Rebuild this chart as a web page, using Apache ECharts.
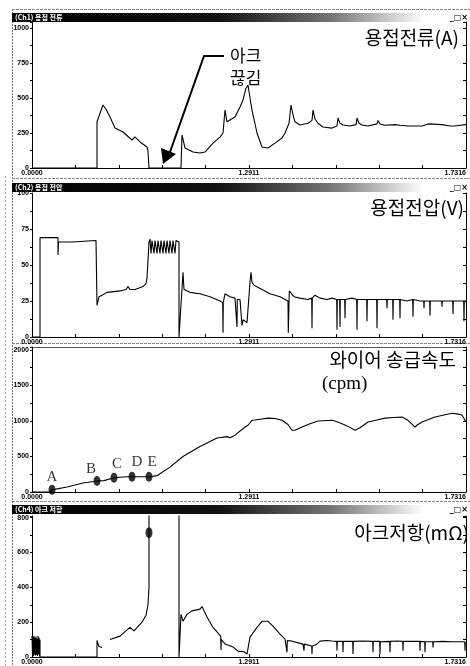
<!DOCTYPE html>
<html>
<head>
<meta charset="utf-8">
<script src="https://cdn.jsdelivr.net/npm/echarts@6/dist/echarts.min.js"></script>
<style>
html,body{margin:0;padding:0;background:#fff}
#main{width:470px;height:666px}
</style>
</head>
<body>
<div id="main"></div>
<script>
// x = 샘플 위치 (창 안 0..434), 눈금 10칸
var xTickLabels = ['0.0000', '1.2911', '1.7316'];

// 용접전류 (A)
var current = [[0,0],[65,0],[65,330],[71,450],[74,420],[78,365],[83,285],[91,257],[100,200],[103,222],
  [108,186],[115,150],[116,120],[117,0],[149,0],[150,236],[153,143],[161,114],[168,107],[173,114],
  [181,178],[188,221],[191,250],[193,414],[195,330],[203,365],[208,436],[211,486],[214,570],[216,593],
  [218,500],[220,414],[225,250],[230,150],[236,143],[243,178],[250,214],[253,250],[257,320],[259,450],
  [261,380],[263,330],[268,307],[276,320],[280,340],[281,414],[283,350],[286,320],[291,293],[300,285],
  [305,300],[306,357],[308,320],[311,307],[318,300],[324,310],[325,357],[327,320],[330,307],[336,300],
  [345,315],[346,340],[348,315],[353,305],[363,310],[368,305],[376,300],[383,300],[390,300],[396,315],
  [398,305],[410,310],[418,300],[423,300],[428,305],[434,310]];

// 용접전압 (V)
var voltage = [[0,0],[8,0],[8,69],[26,69],[26,57],[26.5,66],[40,66],[64,67],[65,22],[67,28],[70,29],[75,31],
  [88,32],[94,33],[96,35],[98,33],[103,33],[111,35],[114,37],[115,41],[117,66],
  [118,68],[119,58],[120,67],[122,58],[123,67],[125,58],[126,67],[128,58],[129,67],[131,58],[132,67],
  [134,58],[135,67],[137,58],[138,67],[140,58],[141,67],[143,58],[144,67],[146,66],[147,66],[147,0],
  [149,0],[151,45],[152,33],[158,31],[168,30],[178,28],[188,25],[190.7,24],[191,3],[191.3,24],[193,30],
  [198,28],[203,27],[205,26],[205,7],[205.3,26],[208,26],[210,8],[211,12],[215,10],[217,11],[218,38],
  [219,45],[220,38],[222,36],[230,33],[238,30],[248,28],[256,25],[256.3,3],[257,3],[257.3,32],[262,28],
  [268,27],[276,26],[279.7,27],[280,6],[280.3,27],[283,29],[288,27],[295,26],[300,27],[304.7,26],
  [305,5],[305.3,26],[307.7,26],[308,7],[308.3,26],[312.7,26],[313,13],[313.3,26],[320,27],[324.7,26],
  [325,5],[325.3,26],[330,26],[334.7,26],[335,11],[335.3,26],[340,26],[344.7,26],[345,6],[345.3,26],
  [350,26],[354.7,26],[355,20],[355.3,26],[360.7,26],[361,12],[361.3,26],[367.7,26],[368,13],
  [368.3,26],[375,25],[380.7,26],[381,14],[381.3,26],[388,25],[391.7,25],[392,20],[392.3,25],
  [397.7,25],[398,15],[398.3,25],[405,25],[409.7,25],[410,21],[410.3,25],[416,25],[420.7,25],
  [421,16],[421.3,25],[428,25],[431.7,25],[432,11],[432.3,25],[434,25]];

// 와이어 송급속도 (cpm)
var wireFeed = [[0,0],[18,0],[20,30],[35,70],[51,127],[65,155],[72,160],[82,200],[95,215],[110,215],
  [118,215],[125,230],[138,350],[151,500],[168,640],[185,760],[195,780],[198,765],[203,800],[213,915],
  [216,940],[220,1010],[223,1015],[228,1025],[236,1040],[243,1035],[250,1010],[256,950],[260,870],
  [263,870],[270,915],[278,960],[286,1000],[300,1010],[305,990],[313,945],[318,910],[323,870],[328,905],
  [336,985],[345,1015],[353,1040],[362,1050],[370,1055],[376,1010],[383,915],[386,950],[390,985],
  [403,1055],[412,1085],[420,1110],[425,1100],[430,1085],[434,985]];
var feedMarks = [['A',20,30],['B',65,155],['C',82,200],['D',100,215],['E',117,215]];

// 아크저항 (mΩ), 1000 = 눈금 밖
var resistance = [[0,120],[0.5,10],[1,115],[1.5,5],[2,122],[2.5,15],[3,110],[3.5,8],[4,118],[4.5,12],
  [5,105],[5.5,6],[6,120],[6.5,14],[7,112],[7.5,5],[8,100],[8,0],[65,0],[65,95],[67,60],[70,55],[72,'-'],
  [78,100],[88,120],[98,170],[102,150],[110,200],[114,240],[116,300],[117,400],[117,1000],[147,1000],
  [147,0],[149,245],[151,205],[155,245],[160,265],[168,275],[170,290],[172,280],[175,230],[181,170],
  [188.7,120],[189,40],[189.3,100],[193,75],[201,57],[206,34],[212,30],[215,17],[218,114],[225,170],
  [230,205],[236,205],[241,177],[248,131],[253,103],[254.7,95],[255,27],[255.3,95],[260,91],[271,74],
  [271.7,74],[272,36],[272.3,74],[279.7,63],[280,17],[280.3,63],[284,70],[288,91],[295,95],[300,92],
  [304.7,90],[305,36],[305.3,90],[310.7,90],[311,27],[311.3,90],[320.7,90],[321,17],[321.3,90],
  [330,92],[340.7,90],[341,27],[341.3,90],[347.7,90],[348,17],[348.3,88],[357.7,90],[358,27],
  [358.3,90],[365,92],[370.7,90],[371,36],[371.3,90],[380,90],[387.7,90],[388,36],[388.3,90],
  [392.7,88],[393,27],[393.3,88],[400.7,88],[401,55],[401.3,88],[410,90],[420,88],[432.7,88],
  [433,36],[433.3,86],[434,86]];
var resistPeak = [[117,714]];

var panelTitles = ['용접전류(A)', '용접전압(V)', '와이어 송급속도', '아크저항(mΩ)'];
var barTitles = ['(Ch1) 용접 전류', '(Ch2) 용접 전압', '', '(Ch4) 아크 저항'];
var yMax = [1043, 100, 2042, 810];
var yStep = [250, 25, 500, 200];

var chart = echarts.init(document.getElementById('main'));

var tops = [22, 193, 347, 516];
var heights = [146, 144, 145, 142];
var grids = [], xAxes = [], yAxes = [];
for (var i = 0; i < 4; i++) {
  grids.push({left: 32, right: 4, top: tops[i], height: heights[i]});
  xAxes.push({
    type: 'value', gridIndex: i, min: 0, max: 434, interval: 43.4,
    axisLine: {lineStyle: {color: '#000', width: 1}},
    axisTick: {inside: true, length: 3, lineStyle: {color: '#000'}},
    splitLine: {show: false},
    axisLabel: {
      fontSize: 7, fontWeight: 'bold', color: '#000', margin: 2,
      fontFamily: 'Liberation Sans', alignMaxLabel: 'right',
      formatter: function (v) {
        var k = Math.round(v / 43.4);
        if (k === 0) return xTickLabels[0];
        if (k === 5) return xTickLabels[1];
        if (k === 10) return xTickLabels[2];
        return '';
      }
    }
  });
}
for (var i = 0; i < 4; i++) {
  yAxes.push({
    type: 'value', gridIndex: i, min: 0, max: yMax[i], interval: yStep[i],
    axisLine: {show: true, lineStyle: {color: '#000'}},
    axisTick: {show: true, length: 2, lineStyle: {color: '#000'}},
    minorTick: {show: true, splitNumber: 2, length: 2, lineStyle: {color: '#000'}},
    splitLine: {show: false},
    axisLabel: {fontSize: 7, fontWeight: 'bold', color: '#000', margin: 3,
      fontFamily: 'Liberation Sans', showMaxLabel: i === 1,
      formatter: function (v) { return String(v); }}
  });
}
for (var i = 0; i < 4; i++) {
  yAxes.push({
    type: 'value', gridIndex: i, position: 'right', min: 0, max: yMax[i], interval: yStep[i] / 2,
    axisLine: {show: true, lineStyle: {color: '#000'}},
    axisTick: {show: true, inside: true, length: 3, lineStyle: {color: '#000'}},
    splitLine: {show: false},
    axisLabel: {show: false}
  });
}

function trace(data, idx) {
  return {
    type: 'line', xAxisIndex: idx, yAxisIndex: idx, data: data,
    showSymbol: false, symbol: 'none', connectNulls: false, clip: true,
    lineStyle: {color: '#000', width: 1.1}, silent: true
  };
}

var labelOffsets = [[0,-13],[-6,-12],[3,-14],[5,-15],[3,-15]];

var series = [
  trace(current, 0),
  trace(voltage, 1),
  trace(wireFeed, 2),
  trace(resistance, 3),
  {
    type: 'scatter', xAxisIndex: 2, yAxisIndex: 2, symbol: 'circle', symbolSize: [7, 10],
    itemStyle: {color: '#000'},
    label: {show: true, position: 'inside', formatter: '{b}', color: '#000',
      fontFamily: 'Liberation Serif', fontSize: 15},
    data: feedMarks.map(function (m, k) {
      return {name: m[0], value: [m[1], m[2]], label: {offset: labelOffsets[k]}};
    })
  },
  {
    type: 'scatter', xAxisIndex: 3, yAxisIndex: 3, symbol: 'circle', symbolSize: [7, 11],
    itemStyle: {color: '#000'}, data: resistPeak
  }
];

// 창 테두리, 제목 표시줄
var graphics = [];
function hline(y, x1, x2, color, dash) {
  graphics.push({type: 'line', shape: {x1: x1, y1: y, x2: x2, y2: y},
    style: {stroke: color, lineWidth: 1, lineDash: dash || null}, silent: true});
}
function vline(x, y1, y2, color, dash) {
  graphics.push({type: 'line', shape: {x1: x, y1: y1, x2: x, y2: y2},
    style: {stroke: color, lineWidth: 1, lineDash: dash || null}, silent: true});
}
vline(12.5, 9, 666, '#777', [2, 1]);
vline(5.5, 176, 666, '#aaa', [2, 2]);
hline(9.5, 12, 470, '#888', [3, 1]);
hline(178.5, 12, 470, '#888', [3, 1]);
hline(343.5, 12, 470, '#888', [3, 1]);
hline(501.5, 12, 470, '#888', [3, 1]);
hline(347.5, 32, 466, '#555');

var barY = [13, 183, -1, 505];
for (var i = 0; i < 4; i++) {
  if (barY[i] < 0) continue;
  graphics.push({
    type: 'rect', shape: {x: 12, y: barY[i], width: 458, height: 9}, silent: true,
    style: {fill: new echarts.graphic.LinearGradient(0, 0, 1, 0, [
      {offset: 0, color: '#000'}, {offset: 0.45, color: '#111'},
      {offset: 0.7, color: '#777'}, {offset: 0.9, color: '#fff'}, {offset: 1, color: '#fff'}])}
  });
  graphics.push({type: 'text', x: 15, y: barY[i] + 4.5, silent: true,
    style: {text: barTitles[i], fill: '#fff', font: 'bold 7px "Noto Sans CJK KR"', verticalAlign: 'middle'}});
  graphics.push({type: 'text', x: 468, y: barY[i] + 4.5, silent: true,
    style: {text: '_□×', fill: '#000', font: 'bold 8px "DejaVu Sans"', align: 'right', verticalAlign: 'middle'}});
}

var titleFont = '19px "Noto Sans CJK KR"';
graphics.push({type: 'text', x: 459, y: 38, silent: true,
  style: {text: panelTitles[0], fill: '#000', font: titleFont, align: 'right', verticalAlign: 'middle'}});
graphics.push({type: 'text', x: 464, y: 208, silent: true,
  style: {text: panelTitles[1], fill: '#000', font: titleFont, align: 'right', verticalAlign: 'middle'}});
graphics.push({type: 'text', x: 456, y: 360, silent: true,
  style: {text: panelTitles[2], fill: '#000', font: titleFont, align: 'right', verticalAlign: 'middle'}});
graphics.push({type: 'text', x: 322, y: 384, silent: true,
  style: {text: '(cpm)', fill: '#000', font: '19px "Liberation Serif"', align: 'left', verticalAlign: 'middle'}});
graphics.push({type: 'text', x: 469, y: 533, silent: true,
  style: {text: panelTitles[3], fill: '#000', font: titleFont, align: 'right', verticalAlign: 'middle'}});

// 아크 끊김 주석
graphics.push({type: 'text', x: 230, y: 56, silent: true,
  style: {text: '아크', fill: '#000', font: '17px "Noto Sans CJK KR"', verticalAlign: 'middle'}});
graphics.push({type: 'text', x: 230, y: 78, silent: true,
  style: {text: '끊김', fill: '#000', font: '17px "Noto Sans CJK KR"', verticalAlign: 'middle'}});
graphics.push({type: 'polyline', silent: true,
  shape: {points: [[224, 56], [204, 56], [170, 152]]},
  style: {stroke: '#000', lineWidth: 2, fill: null}});
graphics.push({type: 'polygon', silent: true,
  shape: {points: [[163, 164], [161, 148], [176, 154]]},
  style: {fill: '#000'}});

chart.setOption({
  animation: false,
  backgroundColor: '#fff',
  grid: grids,
  xAxis: xAxes,
  yAxis: yAxes,
  series: series,
  graphic: graphics
});
</script>
</body>
</html>
